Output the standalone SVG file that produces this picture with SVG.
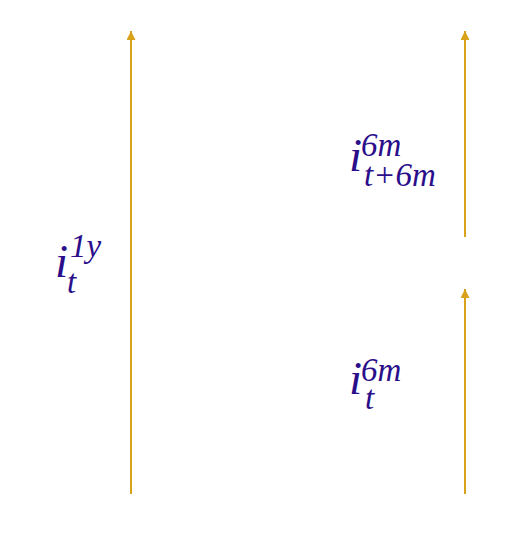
<svg xmlns="http://www.w3.org/2000/svg" width="524" height="535" viewBox="0 0 524 535">
<style>
.ar{stroke:#d9a21b;stroke-width:2;fill:none}
.lb{font-family:"Liberation Serif","DejaVu Serif",serif;font-style:italic;fill:#2a0e8a}
.m{font-size:47px}
.s{font-size:33px}
</style>
<defs>
<marker id="ah" viewBox="0 0 10 10" refX="10" refY="5" markerWidth="4.5" markerHeight="4.5" orient="auto" markerUnits="strokeWidth">
<path d="M0,0 L10,5 L0,10 z" fill="#d9a21b"/>
</marker>
</defs>
<rect width="524" height="535" fill="#fff"/>
<g id="connectors">
<line class="ar" x1="131" y1="494" x2="131" y2="31" marker-end="url(#ah)"/>
<line class="ar" x1="465" y1="237" x2="465" y2="31" marker-end="url(#ah)"/>
<line class="ar" x1="465" y1="494" x2="465" y2="289" marker-end="url(#ah)"/>
</g>
<g id="label-1y">
<text class="lb m" x="55" y="277">i</text>
<text class="lb s" x="70" y="257">1y</text>
<text class="lb s" x="67" y="293">t</text>
</g>
<g id="label-6m-t6m">
<text class="lb m" x="349" y="171">i</text>
<text class="lb s" x="361" y="156">6m</text>
<text class="lb s" x="364" y="186">t+6m</text>
</g>
<g id="label-6m-t">
<text class="lb m" x="349" y="394">i</text>
<text class="lb s" x="361" y="381">6m</text>
<text class="lb s" x="365" y="409">t</text>
</g>
</svg>
